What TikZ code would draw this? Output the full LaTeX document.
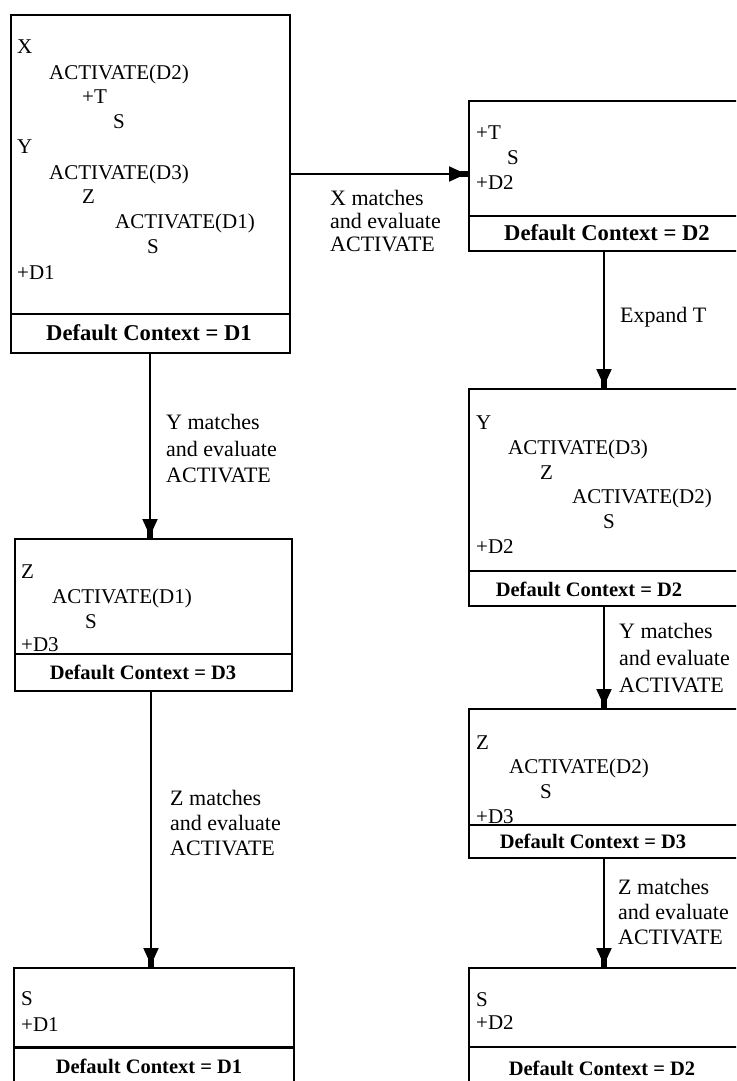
\documentclass[tikz,border=0pt]{standalone}
\usepackage{fontspec}
\setmainfont{Liberation Serif}
\usetikzlibrary{arrows.meta}
\begin{document}
\begin{tikzpicture}[x=1pt,y=-1pt,
  box/.style={draw,line width=2pt,anchor=north west,inner sep=0pt},
  txt/.style={anchor=west,inner sep=0pt,font=\fontsize{21}{24}\selectfont,text height=13.9pt,text depth=0pt},
  ctxA/.style={anchor=center,inner sep=0pt,font=\bfseries\fontsize{22.6}{24}\selectfont,text height=15pt,text depth=0pt},
  ctxB/.style={anchor=center,inner sep=0pt,font=\bfseries\fontsize{20.5}{24}\selectfont,text height=13.6pt,text depth=0pt},
  lbl/.style={anchor=north west,inner sep=0pt,align=left,font=\fontsize{22}{#1}\selectfont},
  divl/.style={line width=2pt},
  arr/.style={line width=2pt,-{Triangle[length=17pt,width=15pt,sep=-6pt]Rectangle[length=8pt,width=6pt]}}
]
\clip (0,0) rectangle (736,1081);
% boxes
\node[box,minimum width=279pt,minimum height=338pt] (A) at (10,14) {};
\node[box,minimum width=340pt,minimum height=150pt] (B) at (468,100) {};
\node[box,minimum width=340pt,minimum height=217pt] (C) at (468,388) {};
\node[box,minimum width=340pt,minimum height=149pt] (D) at (468,708) {};
\node[box,minimum width=340pt,minimum height=160pt] (E) at (468,967) {};
\node[box,minimum width=277pt,minimum height=152pt] (F) at (14,538) {};
\node[box,minimum width=280pt,minimum height=160pt] (G) at (13,967) {};
% dividers
\draw[divl] (A.west |- 0,314) -- (A.east |- 0,314);
\draw[divl] (B.west |- 0,216) -- (B.east |- 0,216);
\draw[divl] (C.west |- 0,571) -- (C.east |- 0,571);
\draw[divl] (D.west |- 0,825) -- (D.east |- 0,825);
\draw[divl] (E.west |- 0,1047) -- (E.east |- 0,1047);
\draw[divl] (F.west |- 0,654) -- (F.east |- 0,654);
\draw[line width=3pt] (G.west |- 0,1047) -- (G.east |- 0,1047);
% box A
\node[txt] (a1) at (17,47) {X};
\node[txt] (a2) at (49,73) {ACTIVATE(D2)};
\node[txt] (a3) at (82,97) {+T};
\node[txt] (a4) at (113,122) {S};
\node[txt] (a5) at (17,147) {Y};
\node[txt] (a6) at (49,173) {ACTIVATE(D3)};
\node[txt] (a7) at (82,197) {Z};
\node[txt] (a8) at (115,222) {ACTIVATE(D1)};
\node[txt] (a9) at (147,247) {S};
\node[txt] (a10) at (17,273) {+D1};
\node[ctxA] (actx) at (149,333) {Default Context = D1};
% box B
\node[txt] (b1) at (476,133) {+T};
\node[txt] (b2) at (507,158) {S};
\node[txt] (b3) at (476,183) {+D2};
\node[ctxA] (bctx) at (607,233) {Default Context = D2};
% box C
\node[txt] (c1) at (476,423) {Y};
\node[txt] (c2) at (508,448) {ACTIVATE(D3)};
\node[txt] (c3) at (540,473) {Z};
\node[txt] (c4) at (572,497) {ACTIVATE(D2)};
\node[txt] (c5) at (603,522) {S};
\node[txt] (c6) at (476,547) {+D2};
\node[ctxB] (cctx) at (589,590) {Default Context = D2};
% box D
\node[txt] (d1) at (476,743) {Z};
\node[txt] (d2) at (509,767) {ACTIVATE(D2)};
\node[txt] (d3) at (540,792) {S};
\node[txt] (d4) at (476,817) {+D3};
\node[ctxB] (dctx) at (593,842) {Default Context = D3};
% box E
\node[txt] (e1) at (476,1000) {S};
\node[txt] (e2) at (476,1023) {+D2};
\node[ctxB] (ectx) at (602,1069) {Default Context = D2};
% box F
\node[txt] (f1) at (21,572) {Z};
\node[txt] (f2) at (52,597) {ACTIVATE(D1)};
\node[txt] (f3) at (85,622) {S};
\node[txt] (f4) at (21,645) {+D3};
\node[ctxB] (fctx) at (143,673) {Default Context = D3};
% box G
\node[txt] (g1) at (21,999) {S};
\node[txt] (g2) at (21,1025) {+D1};
\node[ctxB] (gctx) at (149,1067) {Default Context = D1};
% arrows
\draw[arr] (A.east |- 0,174) -- (B.west |- 0,174);
\draw[arr] (150,0 |- A.south) -- (150,0 |- F.north);
\draw[arr] (151,0 |- F.south) -- (151,0 |- G.north);
\draw[arr] (604,0 |- B.south) -- (604,0 |- C.north);
\draw[arr] (604,0 |- C.south) -- (604,0 |- D.north);
\draw[arr] (604,0 |- D.south) -- (604,0 |- E.north);
% labels
\node[lbl=23] (lx) at (330,190.3) {X matches\\and evaluate\\ACTIVATE};
\node[lbl=26.5] (ly1) at (166,414.3) {Y matches\\and evaluate\\ACTIVATE};
\node[lbl=25] (lz1) at (170,790.3) {Z matches\\and evaluate\\ACTIVATE};
\node[lbl=25] (lexp) at (620,307.3) {Expand T};
\node[lbl=27] (ly2) at (619,623.3) {Y matches\\and evaluate\\ACTIVATE};
\node[lbl=25] (lz2) at (618,879.3) {Z matches\\and evaluate\\ACTIVATE};
\end{tikzpicture}
\end{document}
